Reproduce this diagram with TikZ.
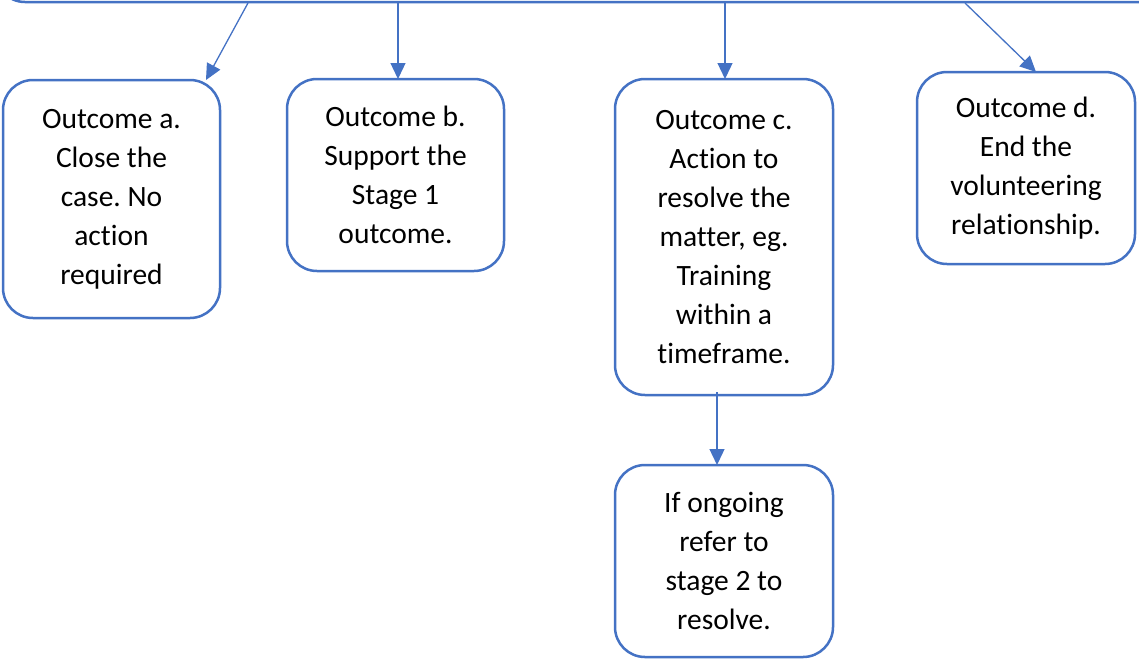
\documentclass[tikz,border=0pt]{standalone}
\usepackage{fontspec}
\setmainfont{Carlito}[Ligatures={NoCommon}]
\usetikzlibrary{arrows.meta}
\definecolor{wordblue}{HTML}{4472C4}
\frenchspacing
\tikzset{
  box/.style={draw=wordblue, line width=2.5pt, rounded corners=30pt, fill=white,
    inner sep=0pt, align=center, font=\fontsize{29.5}{39}\selectfont, text=black},
  conn/.style={draw=wordblue, line width=1.3pt, -{Triangle[length=16pt,width=15pt]}}
}
\begin{document}
\begin{tikzpicture}[x=1pt,y=-1pt]
\useasboundingbox (0,0) rectangle (1139,659);
\clip (0,0) rectangle (1139,659);
\node[box, minimum width=1205pt, minimum height=62pt] (top) at (597.5,-29) {};
\node[box, minimum width=217pt, minimum height=238pt] (a) at (111.5,199) {Outcome a.\\Close the\\case. No\\action\\required};
\node[box, minimum width=217pt, minimum height=192pt] (b) at (395.5,175) {Outcome b.\\Support the\\Stage 1\\outcome.};
\node[box, minimum width=218pt, minimum height=316pt] (c) at (724,237) {Outcome c.\\Action to\\resolve the\\matter, eg.\\Training\\within a\\timeframe.};
\node[box, minimum width=218pt, minimum height=192pt] (d) at (1026,168) {Outcome d.\\End the\\volunteering\\relationship.};
\node[box, minimum width=218pt, minimum height=192pt] (e) at (724,561) {If ongoing\\refer to\\stage 2 to\\resolve.};
\coordinate (sa) at (248,3);
\coordinate (ta) at (206,80);
\coordinate (sb) at (398,3);
\coordinate (tb) at (398,79);
\coordinate (sc) at (725,3);
\coordinate (tc) at (725,79);
\coordinate (sd) at (965,3);
\coordinate (td) at (1036,72);
\coordinate (se) at (717,392);
\coordinate (te) at (717,465);
\draw[conn] (sa) -- (ta);
\draw[conn] (sb) -- (tb);
\draw[conn] (sc) -- (tc);
\draw[conn] (sd) -- (td);
\draw[conn] (se) -- (te);
\end{tikzpicture}
\end{document}
